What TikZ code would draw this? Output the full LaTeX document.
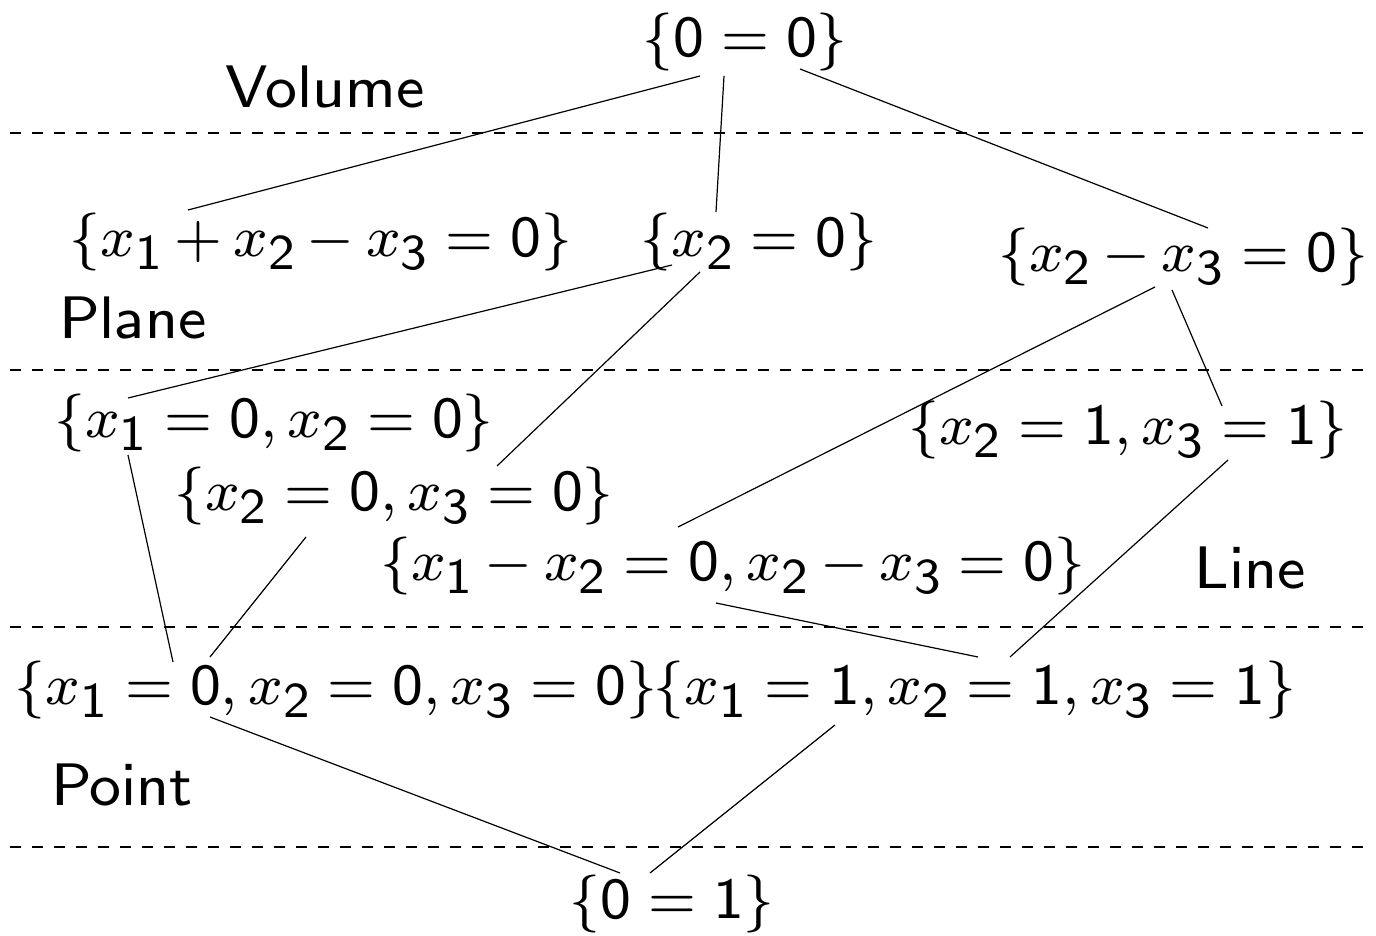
\documentclass[tikz,border=0pt]{standalone}
\usepackage{amsmath}
\usepackage{tikz}
\usetikzlibrary{calc}
% slide-like fonts: 8pt designs scaled up, sans digits in math, large subscripts
\DeclareFontFamily{OT1}{sss}{}
\DeclareFontShape{OT1}{sss}{m}{n}{<-> cmss8}{}
\DeclareFontFamily{OML}{smm}{\skewchar\font=127}
\DeclareFontShape{OML}{smm}{m}{it}{<-> cmmi8}{}
\DeclareFontFamily{OMS}{ssy}{\skewchar\font=48}
\DeclareFontShape{OMS}{ssy}{m}{n}{<-> cmsy8}{}
\DeclareSymbolFont{operators}{OT1}{sss}{m}{n}
\DeclareSymbolFont{letters}{OML}{smm}{m}{it}
\DeclareSymbolFont{symbols}{OMS}{ssy}{m}{n}
\DeclareMathSizes{29}{29}{25}{21}
\medmuskip=3.3mu plus 2mu minus 2mu

\begin{document}
\begin{tikzpicture}[x=0.5pt, y=-0.5pt,
    every node/.style={font=\fontsize{29}{35}\selectfont, inner sep=0pt},
    level/.style={font=\fontsize{30}{36}\fontencoding{OT1}\fontfamily{sss}\selectfont},
    edge/.style={line width=0.6pt},
    sep/.style={line width=0.6pt, dash pattern=on 5.5pt off 5.5pt}]
  \useasboundingbox (0,0) rectangle (1376,936);

  % Levels
  \node[level] (vol) at (325,87) {Volume};
  \node[level] (pla) at (133,318) {Plane};
  \node[level] (lin) at (1250,568) {Line};
  \node[level] (pnt) at (122,785) {Point};

  \draw[sep] (10,133) -- (1370,133);
  \draw[sep] (10,370) -- (1370,370);
  \draw[sep] (10,627) -- (1370,627);
  \draw[sep] (10,847) -- (1370,847);

  % Ideals
  \node (top) at (745,42) {$\{0=0\}$};
  \node (n1) at (321,242) {$\{x_1+x_2-x_3=0\}$};
  \node (n2) at (759,242) {$\{x_2=0\}$};
  \node (n3) at (1183,257) {$\{x_2-x_3=0\}$};
  \node (n4) at (274,423) {$\{x_1=0,x_2=0\}$};
  \node (n5) at (1128,430) {$\{x_2=1,x_3=1\}$};
  \node (n6) at (394,496) {$\{x_2=0,x_3=0\}$};
  \node (n7) at (733,566) {$\{x_1-x_2=0,x_2-x_3=0\}$};
  \node (n8) at (336,690) {$\{x_1=0,x_2=0,x_3=0\}$};
  \node (n9) at (975,690) {$\{x_1=1,x_2=1,x_3=1\}$};
  \node (bot) at (672,904) {$\{0=1\}$};

  % Inclusions
  \draw[edge] ($(top)+(-45,34)$) -- ($(n1)+(-133,-32)$);
  \draw[edge] ($(top)+(-21,34)$) -- ($(n2)+(-43,-30)$);
  \draw[edge] ($(top)+(55,27)$) -- ($(n3)+(25,-29)$);
  \draw[edge] ($(n2)+(-87,23)$) -- ($(n4)+(-146,-25)$);
  \draw[edge] ($(n2)+(-59,30)$) -- ($(n6)+(103,-30)$);
  \draw[edge] ($(n3)+(-28,30)$) -- ($(n7)+(-55,-39)$);
  \draw[edge] ($(n3)+(-11,33)$) -- ($(n5)+(94,-24)$);
  \draw[edge] ($(n4)+(-146,32)$) -- ($(n8)+(-163,-28)$);
  \draw[edge] ($(n6)+(-88,41)$) -- ($(n8)+(-126,-33)$);
  \draw[edge] ($(n7)+(-17,37)$) -- ($(n9)+(3,-33)$);
  \draw[edge] ($(n5)+(100,30)$) -- ($(n9)+(35,-33)$);
  \draw[edge] ($(n8)+(-126,27)$) -- ($(bot)+(-52,-31)$);
  \draw[edge] ($(n9)+(-140,35)$) -- ($(bot)+(-22,-31)$);
\end{tikzpicture}
\end{document}
